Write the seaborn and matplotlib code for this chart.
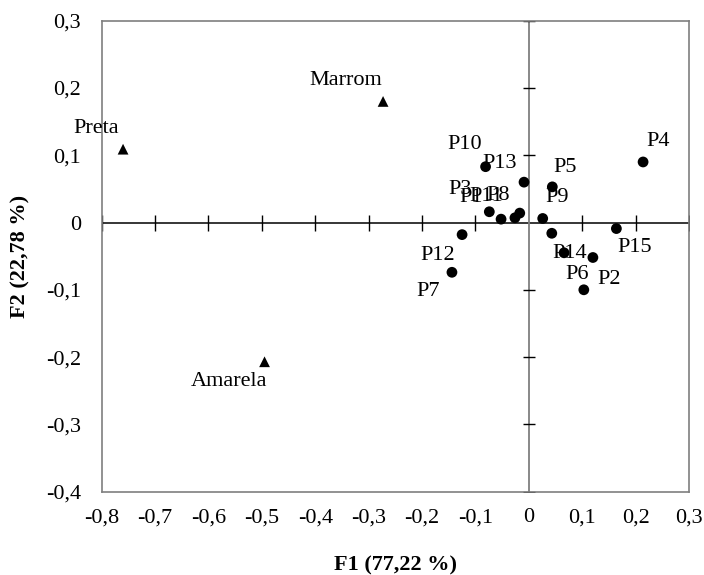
import numpy as np
import pandas as pd
import matplotlib
matplotlib.use("Agg")
import matplotlib.pyplot as plt
import seaborn as sns

# ---- data ----
prod_names = ["P10", "P13", "P5", "P4", "P3", "P1", "P11", "P8", "P9",
              "P12", "P14", "P15", "P6", "P2", "P7", ""]
prod_f1 = [-0.081, -0.009, 0.044, 0.214, -0.074, -0.052, -0.026, -0.017, 0.026,
           -0.125, 0.043, 0.164, 0.066, 0.120, -0.144, 0.103]
prod_f2 = [0.083, 0.060, 0.053, 0.090, 0.016, 0.005, 0.007, 0.014, 0.006,
           -0.018, -0.016, -0.009, -0.045, -0.052, -0.074, -0.100]

cat_names = ["Preta", "Marrom", "Amarela"]
cat_f1 = [-0.760, -0.273, -0.495]
cat_f2 = [0.109, 0.180, -0.207]

x_ticks = [-0.8, -0.7, -0.6, -0.5, -0.4, -0.3, -0.2, -0.1, 0.0, 0.1, 0.2, 0.3]
y_ticks = [-0.4, -0.3, -0.2, -0.1, 0.0, 0.1, 0.2, 0.3]

xlabel = "F1 (77,22 %)"
ylabel = "F2 (22,78 %)"

# label offsets (pixels) relative to point
prod_off = [(-21, 22), (-24, 19), (13, 19), (15, 20), (-29, 22), (-30, 22), (-29, 21),
            (-22, 18), (14, 21), (-24, -21), (18, -20), (18, -19), (13, -22),
            (16, -22), (-24, -19), (0, 0)]
cat_off = [(-27, 21), (-37, 21), (-36, -20)]

df = pd.DataFrame({
    "F1": prod_f1 + cat_f1,
    "F2": prod_f2 + cat_f2,
    "name": prod_names + cat_names,
    "kind": ["prod"] * len(prod_names) + ["cat"] * len(cat_names),
})

sns.set_theme(style="white")
plt.rcParams["font.family"] = ["Liberation Serif", "DejaVu Serif"]

fig = plt.figure(figsize=(7.04, 5.75), dpi=100)
ax = fig.add_axes([101.7 / 704, 1 - 491.6 / 575, (689 - 101.7) / 704, (491.6 - 20.7) / 575])

ax.axhline(0, color="black", lw=1.1, zorder=1)
ax.axvline(0, color="#7f7f7f", lw=1.3, zorder=1)

# cross ticks along the zero lines
xt = [v for v in x_ticks if v != 0.0]
yt = [v for v in y_ticks if v != 0.0]
ax.plot(xt, [0] * len(xt), ls="none", marker="|", ms=11, mew=1.0, color="black", zorder=1)
ax.plot([0] * len(yt), yt, ls="none", marker="_", ms=9, mew=1.0, color="black", zorder=1)

sns.scatterplot(data=df, x="F1", y="F2", style="kind",
                markers={"prod": "o", "cat": "^"}, color="black",
                s=60, edgecolor="black", linewidth=0, legend=False, ax=ax, zorder=3)

for n, x, y, (dx, dy) in zip(prod_names, prod_f1, prod_f2, prod_off):
    if n:
        ax.annotate(n, (x, y), xytext=(dx, dy), textcoords="offset pixels",
                    ha="center", va="center", fontsize=16, color="black", zorder=4)
for n, x, y, (dx, dy) in zip(cat_names, cat_f1, cat_f2, cat_off):
    ax.annotate(n, (x, y), xytext=(dx, dy), textcoords="offset pixels",
                ha="center", va="center", fontsize=16, color="black", zorder=4)

ax.set_xlim(-0.8, 0.3)
ax.set_ylim(-0.4, 0.3)
ax.set_xticks(x_ticks)
ax.set_yticks(y_ticks)
fmt = lambda v: "0" if abs(v) < 1e-9 else f"{v:.1f}".replace(".", ",")
ax.set_xticklabels([fmt(v) for v in x_ticks])
ax.set_yticklabels([fmt(v) for v in y_ticks])
ax.tick_params(axis="x", length=0, pad=12, labelsize=16, colors="black")
ax.tick_params(axis="y", length=0, pad=15, labelsize=16, colors="black")

for sp in ax.spines.values():
    sp.set_color("#7f7f7f")
    sp.set_linewidth(1.2)
    sp.set_visible(True)

ax.set_xlabel(xlabel, fontsize=16, fontweight="bold", color="black", va="center")
ax.set_ylabel(ylabel, fontsize=16, fontweight="bold", color="black", va="center")
ax.xaxis.set_label_coords(0.5, -0.156)
ax.yaxis.set_label_coords(-0.139, 0.5)
ax.grid(False)

fig.savefig("out.png", dpi=100, facecolor="white")
